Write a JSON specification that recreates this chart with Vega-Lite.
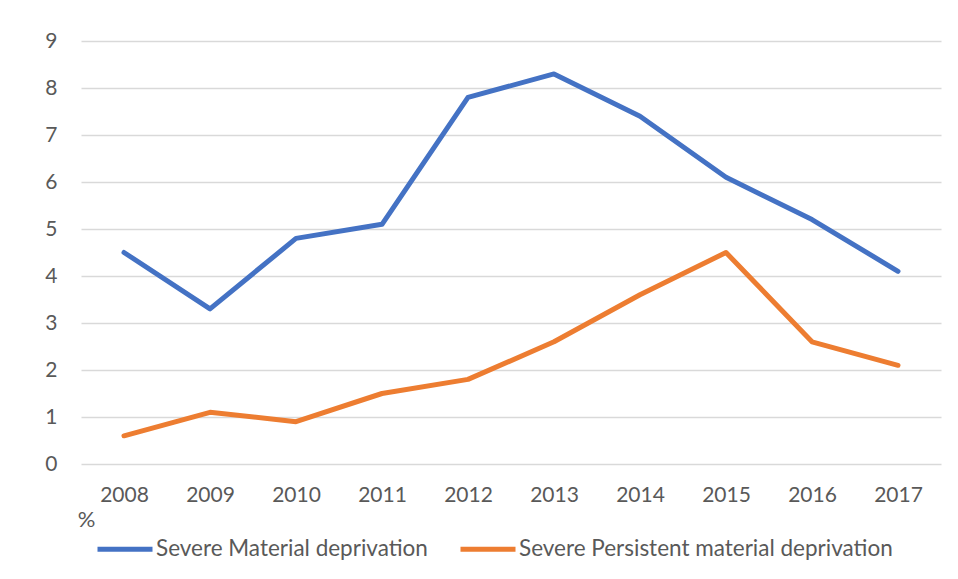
{
  "$schema": "https://vega.github.io/schema/vega-lite/v6.json",
  "autosize": "none",
  "width": 860,
  "height": 423,
  "padding": {"left": 81, "top": 41, "right": 17, "bottom": 115},
  "background": "white",
  "config": {
    "font": "Lato",
    "view": {"stroke": null},
    "axis": {"labelColor": "#595959", "labelFont": "Lato", "labelFontSize": 21, "gridColor": "#d9d9d9", "gridWidth": 1.5, "domain": false, "ticks": false}
  },
  "data": {
    "values": [
      {"year": "2008", "series": "Severe Material deprivation", "value": 4.5},
      {"year": "2009", "series": "Severe Material deprivation", "value": 3.3},
      {"year": "2010", "series": "Severe Material deprivation", "value": 4.8},
      {"year": "2011", "series": "Severe Material deprivation", "value": 5.1},
      {"year": "2012", "series": "Severe Material deprivation", "value": 7.8},
      {"year": "2013", "series": "Severe Material deprivation", "value": 8.3},
      {"year": "2014", "series": "Severe Material deprivation", "value": 7.4},
      {"year": "2015", "series": "Severe Material deprivation", "value": 6.1},
      {"year": "2016", "series": "Severe Material deprivation", "value": 5.2},
      {"year": "2017", "series": "Severe Material deprivation", "value": 4.1},
      {"year": "2008", "series": "Severe Persistent material deprivation", "value": 0.6},
      {"year": "2009", "series": "Severe Persistent material deprivation", "value": 1.1},
      {"year": "2010", "series": "Severe Persistent material deprivation", "value": 0.9},
      {"year": "2011", "series": "Severe Persistent material deprivation", "value": 1.5},
      {"year": "2012", "series": "Severe Persistent material deprivation", "value": 1.8},
      {"year": "2013", "series": "Severe Persistent material deprivation", "value": 2.6},
      {"year": "2014", "series": "Severe Persistent material deprivation", "value": 3.6},
      {"year": "2015", "series": "Severe Persistent material deprivation", "value": 4.5},
      {"year": "2016", "series": "Severe Persistent material deprivation", "value": 2.6},
      {"year": "2017", "series": "Severe Persistent material deprivation", "value": 2.1}
    ]
  },
  "mark": {"type": "line", "strokeWidth": 5, "strokeCap": "round", "strokeJoin": "round"},
  "encoding": {
    "x": {
      "field": "year", "type": "ordinal",
      "scale": {"type": "point", "padding": 0.5},
      "axis": {"title": null, "labelAngle": 0, "grid": false, "labelPadding": 31, "labelBaseline": "middle"}
    },
    "y": {
      "field": "value", "type": "quantitative",
      "scale": {"domain": [0, 9], "nice": false},
      "axis": {"values": [0,1,2,3,4,5,6,7,8,9], "labelPadding": 24, "title": "%", "titleAngle": 0, "titleX": 5, "titleY": 478, "titleAlign": "center", "titleBaseline": "middle", "titleFont": "Lato", "titleFontSize": 22, "titleFontWeight": "normal", "titleColor": "#595959"}
    },
    "color": {
      "field": "series", "type": "nominal",
      "scale": {"domain": ["Severe Material deprivation", "Severe Persistent material deprivation"], "range": ["#4472C4", "#ED7D31"]},
      "legend": {"title": null, "orient": "none", "direction": "horizontal", "legendX": 14, "legendY": 478, "symbolType": "stroke", "symbolSize": 3025, "symbolStrokeWidth": 5, "labelFontSize": 22.5, "labelColor": "#595959", "labelFont": "Lato", "labelOffset": 1, "columnPadding": 22, "labelLimit": 500}
    }
  }
}
